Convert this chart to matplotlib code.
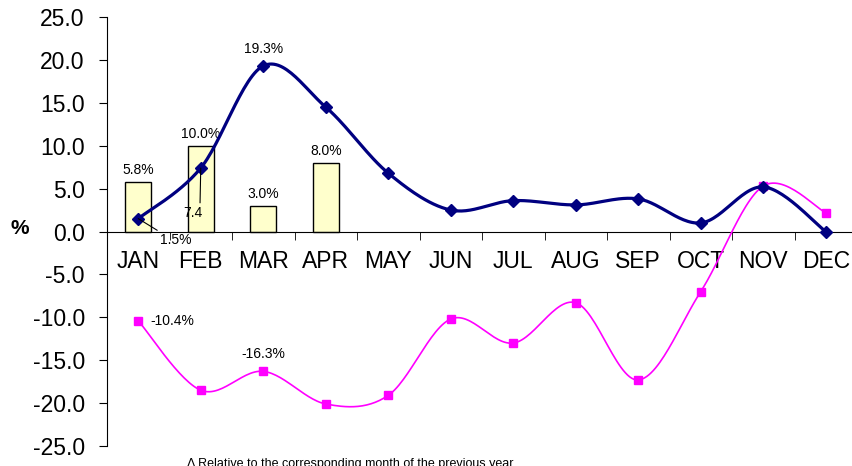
import numpy as np
import matplotlib.pyplot as plt

plt.rcParams['font.family'] = ['Liberation Sans', 'DejaVu Sans']

# data
months = ['JAN', 'FEB', 'MAR', 'APR', 'MAY', 'JUN', 'JUL', 'AUG', 'SEP', 'OCT', 'NOV', 'DEC']
navy_vals = [1.5, 7.4, 19.3, 14.5, 6.8, 2.5, 3.6, 3.1, 3.8, 1.0, 5.2, 0.0]
pink_vals = [-10.4, -18.5, -16.3, -20.1, -19.1, -10.2, -13.0, -8.3, -17.3, -7.0, 5.3, 2.2]
bar_vals = [5.8, 10.0, 3.0, 8.0]
yticks = [25, 20, 15, 10, 5, 0, -5, -10, -15, -20, -25]


def smooth(x, y, n=30):
    # catmull-rom style smoothing like excel's smoothed line
    x = np.asarray(x, float)
    y = np.asarray(y, float)
    px = np.concatenate([[x[0]], x, [x[-1]]])
    py = np.concatenate([[y[0]], y, [y[-1]]])
    xs, ys = [], []
    t = np.linspace(0, 1, n)
    for i in range(1, len(px) - 2):
        p0, p1, p2, p3 = [np.array([px[j], py[j]]) for j in (i - 1, i, i + 1, i + 2)]
        c1 = p1 + (p2 - p0) / 6
        c2 = p2 - (p3 - p1) / 6
        pts = ((1 - t) ** 3)[:, None] * p1 + (3 * (1 - t) ** 2 * t)[:, None] * c1 \
            + (3 * (1 - t) * t ** 2)[:, None] * c2 + (t ** 3)[:, None] * p2
        xs.extend(pts[:, 0])
        ys.extend(pts[:, 1])
    return xs, ys


fig = plt.figure(figsize=(8.52, 4.66), dpi=100)
ax = fig.add_axes([107 / 852, 20 / 466, 745 / 852, 429 / 466])

x = np.arange(len(months))

# bars
ax.bar(x[:len(bar_vals)], bar_vals, width=0.42, color='#FFFFCC', edgecolor='black', linewidth=1, zorder=2)
for i, v in enumerate(bar_vals):
    ax.text(i, v + 0.6, '%.1f%%' % v, ha='center', va='bottom', fontsize=10)

# lines
sx, sy = smooth(x, pink_vals)
ax.plot(sx, sy, color='#FF00FF', lw=1.2, zorder=3)
ax.plot(x, pink_vals, ls='none', marker='s', ms=6, color='#FF00FF', zorder=4)

sx, sy = smooth(x, navy_vals)
ax.plot(sx, sy, color='#000080', lw=2.3, zorder=5)
ax.plot(x, navy_vals, ls='none', marker='D', ms=6, color='#000080', zorder=6)

# point labels
ax.annotate('1.5%', xy=(0, navy_vals[0]), xytext=(0.6, -1.0), fontsize=10, ha='center', va='center',
            arrowprops=dict(arrowstyle='-', color='black', lw=0.8, shrinkA=0, shrinkB=0,
                            relpos=(0.2, 0.8)), zorder=7)
ax.annotate('7.4', xy=(1, navy_vals[1]), xytext=(0.88, 2.2), fontsize=10, ha='center', va='center',
            arrowprops=dict(arrowstyle='-', color='black', lw=0.8, shrinkA=0, shrinkB=0,
                            relpos=(0.85, 1.0)), zorder=7)
ax.text(2, navy_vals[2] + 1.2, '19.3%', ha='center', va='bottom', fontsize=10)
ax.text(0.2, pink_vals[0], '-10.4%', ha='left', va='center', fontsize=10)
ax.text(2, pink_vals[2] + 1.2, '-16.3%', ha='center', va='bottom', fontsize=10)

# axes
ax.set_xlim(-0.5, 11.42)
ax.set_ylim(-25, 25)
ax.set_yticks(yticks)
ax.set_yticklabels(['%.1f' % v for v in yticks], fontsize=16.5)
ax.spines['top'].set_visible(False)
ax.spines['right'].set_visible(False)
ax.spines['bottom'].set_position(('data', 0))
ax.set_xticks(x)
ax.set_xticklabels(months, fontsize=16.5)
ax.tick_params(axis='x', which='major', length=0, pad=13)
ax.set_xticks(np.arange(0.5, 11.5, 1), minor=True)
ax.tick_params(axis='x', which='minor', length=6, direction='out')
ax.tick_params(axis='y', length=6, direction='out', pad=10)

fig.text(20 / 852, 1 - 228 / 466, '%', fontsize=15, fontweight='bold', ha='center', va='center')
fig.text(187 / 852, 1 - 458 / 466, '\u0394 Relative to the corresponding month of the previous year',
         fontsize=9, ha='left', va='top')

plt.savefig('out.png', dpi=100)
